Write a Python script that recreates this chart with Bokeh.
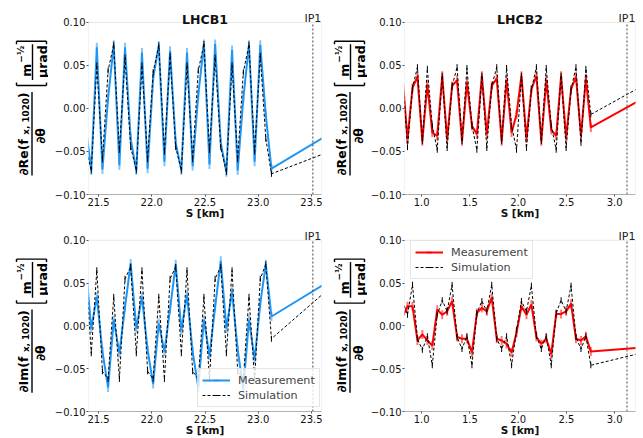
import numpy as np
from bokeh.plotting import figure
from bokeh.layouts import row, column
from bokeh.models import (Range1d, FixedTicker, CustomJSTickFormatter, BoxAnnotation,
                          Legend, LegendItem)
from bokeh.embed import file_html
from bokeh.resources import INLINE
from bokeh.core.properties import value

# ---------------- data ----------------
b1_s = [21.379, 21.432, 21.484, 21.537, 21.590, 21.643, 21.696, 21.749, 21.802, 21.855,
        21.908, 21.961, 22.013, 22.066, 22.119, 22.172, 22.225, 22.278, 22.331, 22.384,
        22.437, 22.490, 22.542, 22.595, 22.648, 22.701, 22.754, 22.807, 22.860, 22.913,
        22.966, 23.019, 23.071, 23.124, 23.650]
b1_re_meas = [-0.020, -0.072, 0.071, -0.071, 0.012, 0.074, -0.066, 0.071, -0.035, -0.072,
              0.065, -0.070, 0.035, 0.073, -0.062, 0.067, -0.040, -0.072, 0.065, -0.067,
              0.016, 0.075, -0.065, 0.075, -0.040, -0.074, 0.068, -0.072, 0.012, 0.074,
              -0.062, 0.074, -0.008, -0.070, -0.031]
b1_re_sim = [-0.045, -0.072, 0.050, -0.059, 0.044, 0.074, -0.048, 0.059, -0.045, -0.072,
             0.050, -0.059, 0.042, 0.073, -0.050, 0.061, -0.045, -0.072, 0.050, -0.059,
             0.044, 0.075, -0.048, 0.059, -0.045, -0.074, 0.050, -0.059, 0.042, 0.074,
             -0.050, 0.061, -0.035, -0.076, -0.051]
b1_im_meas = [0.072, -0.003, 0.034, -0.030, -0.072, 0.007, -0.032, 0.022, 0.073, -0.003,
              0.034, -0.028, -0.068, 0.003, -0.030, 0.020, 0.072, -0.005, 0.036, -0.030,
              -0.072, 0.007, -0.035, 0.022, 0.076, -0.003, 0.040, -0.028, -0.074, 0.007,
              -0.039, 0.026, 0.072, 0.011, 0.051]
b1_im_sim = [0.069, -0.032, 0.065, -0.053, -0.062, 0.034, -0.062, 0.055, 0.069, -0.032,
             0.065, -0.053, -0.062, 0.034, -0.062, 0.055, 0.069, -0.032, 0.065, -0.053,
             -0.062, 0.034, -0.062, 0.055, 0.069, -0.032, 0.065, -0.053, -0.062, 0.034,
             -0.062, 0.055, 0.072, -0.015, 0.042]

b2_s = [0.802, 0.853, 0.905, 0.956, 1.007, 1.059, 1.110, 1.161, 1.213, 1.264, 1.315,
        1.367, 1.418, 1.469, 1.521, 1.572, 1.624, 1.675, 1.726, 1.778, 1.829, 1.880,
        1.932, 1.983, 2.034, 2.086, 2.137, 2.189, 2.240, 2.291, 2.343, 2.394, 2.445,
        2.497, 2.548, 2.599, 2.651, 2.702, 2.753, 3.300]
b2_re_meas = [0.037, -0.036, 0.024, 0.037, -0.038, 0.028, -0.028, -0.032, 0.038, -0.036,
              0.026, 0.033, -0.038, 0.030, -0.020, -0.030, 0.038, -0.030, 0.026, 0.035,
              -0.038, 0.033, -0.028, -0.007, 0.038, -0.035, 0.022, 0.038, -0.038, 0.033,
              -0.025, -0.032, 0.038, -0.034, 0.022, 0.037, -0.032, 0.035, -0.022, 0.012]
b2_re_sim = [0.038, -0.045, 0.024, 0.048, -0.038, 0.046, -0.020, -0.048, 0.038, -0.046,
             0.026, 0.048, -0.038, 0.047, -0.020, -0.048, 0.038, -0.046, 0.026, 0.048,
             -0.038, 0.047, -0.020, -0.048, 0.038, -0.046, 0.022, 0.048, -0.038, 0.047,
             -0.020, -0.048, 0.038, -0.046, 0.022, 0.048, -0.040, 0.046, -0.007, 0.027]
b2_im_meas = [0.010, 0.023, 0.023, -0.017, -0.010, -0.017, -0.023, 0.019, 0.013, 0.017,
              0.029, -0.013, -0.015, -0.015, -0.031, 0.015, 0.021, 0.017, 0.033, -0.015,
              -0.017, -0.021, -0.031, -0.008, 0.023, 0.013, 0.025, -0.013, -0.021, -0.015,
              -0.033, 0.014, 0.014, 0.017, 0.026, -0.015, -0.017, -0.012, -0.030, -0.025]
b2_im_sim = [0.029, 0.013, 0.048, -0.015, -0.028, -0.012, -0.046, 0.013, 0.030, 0.017,
             0.048, -0.013, -0.027, -0.012, -0.046, 0.015, 0.029, 0.017, 0.048, -0.015,
             -0.027, -0.012, -0.046, -0.005, 0.029, 0.017, 0.047, -0.012, -0.027, -0.012,
             -0.046, 0.015, 0.030, 0.017, 0.047, -0.013, -0.027, -0.012, -0.046, -0.031]

ip1_b1 = 23.513
ip1_b2 = 3.128
b1_xrange = (21.406, 23.594)
b2_xrange = (0.822, 3.216)
b1_xticks = [21.5, 22.0, 22.5, 23.0, 23.5]
b2_xticks = [1.0, 1.5, 2.0, 2.5, 3.0]
y_ticks = [-0.10, -0.05, 0.0, 0.05, 0.10]
y_lim = (-0.10, 0.10)

BLUE = "#1e96f5"
RED = "#ff0000"
FONT = "DejaVu Sans"
F = 173  # data-box height (px)
DY = (y_lim[1] - y_lim[0]) / F  # data units per pixel


def main_panel(s, meas, sim, color, xr, xticks, ip1, title, head, bb, legend_loc,
               width, bl, br, base):
    h = head + F + bb
    p = figure(width=width, height=h, x_range=Range1d(*xr),
               y_range=Range1d(y_lim[0], y_lim[1] + head * DY),
               output_backend="svg", toolbar_location=None, title=None,
               min_border_left=bl, min_border_right=br, min_border_top=0,
               min_border_bottom=bb)
    p.xgrid.visible = False
    p.ygrid.visible = False
    p.outline_line_color = None
    for ax in (p.xaxis[0], p.yaxis[0]):
        ax.major_tick_line_color = "#555555"
        ax.major_tick_out = 2
        ax.major_tick_in = 0
        ax.minor_tick_line_color = None
        ax.major_label_text_font = FONT
        ax.major_label_text_font_size = "10px"
        ax.major_label_text_color = "#111111"
        ax.major_label_standoff = 1
    p.xaxis.axis_line_color = "#b0b0b0"
    p.yaxis.axis_line_color = None
    p.xaxis.ticker = FixedTicker(ticks=xticks)
    p.xaxis.formatter = CustomJSTickFormatter(code="return tick.toFixed(1);")
    p.xaxis.axis_label = "S [km]"
    p.xaxis.axis_label_text_font = FONT
    p.xaxis.axis_label_text_font_size = "10.5px"
    p.xaxis.axis_label_text_font_style = "bold"
    p.xaxis.axis_label_text_color = "#111111"
    p.xaxis.axis_label_standoff = -2
    p.yaxis.ticker = FixedTicker(ticks=y_ticks)
    p.yaxis.formatter = CustomJSTickFormatter(
        code="return (tick < -1e-9 ? '\u2212' : '') + Math.abs(tick).toFixed(2);")

    # axes box around the data area
    p.add_layout(BoxAnnotation(left=xr[0], right=xr[1], bottom=y_lim[0], top=y_lim[1],
                               fill_alpha=0, line_color="#b0b0b0", line_width=1,
                               level="underlay"))

    rm = p.line(s, meas, line_color=color, line_width=2)
    rme = p.scatter(s, meas, marker="dash", angle=np.pi / 2, size=9,
                    line_color=color, line_width=2, line_alpha=0.55)
    rs = p.line(s, sim, line_color="black", line_width=1, line_dash="3 2")
    rse = p.scatter(s, sim, marker="dash", angle=np.pi / 2, size=6,
                    line_color="black", line_width=1)

    # IP1 marker line and label
    p.segment(x0=[ip1], y0=[y_lim[0]], x1=[ip1], y1=[y_lim[1]], line_color="#444444",
              line_width=1, line_dash="2 2")
    p.text(x=[ip1], y=[y_lim[1] + (head - base) * DY], text=["IP1"],
           text_align="center", text_baseline="alphabetic", text_font=value(FONT),
           text_font_size="11px", text_color="#222222")
    if title:
        p.text(x=[(xr[0] + xr[1]) / 2], y=[y_lim[1] + (head - base - 0.8) * DY],
               text=[title], text_align="center", text_baseline="alphabetic",
               text_font=value(FONT), text_font_size="12.5px", text_font_style="bold",
               text_color="#111111")
    if legend_loc:
        leg = Legend(items=[LegendItem(label="Measurement", renderers=[rm, rme]),
                            LegendItem(label="Simulation", renderers=[rs, rse])],
                     location=legend_loc, label_text_font=FONT,
                     label_text_font_size="11.2px", glyph_width=28, glyph_height=14,
                     label_standoff=8, padding=4, spacing=1, margin=0,
                     border_line_color="#cccccc", background_fill_alpha=0.8)
        p.add_layout(leg)
    return p


def ylabel_fig(kind, width, head, bb, dx):
    h = head + F + bb
    f = figure(width=width, height=h, x_range=Range1d(0, width),
               y_range=Range1d(F, -head), output_backend="svg", toolbar_location=None,
               x_axis_type=None, y_axis_type=None, min_border_left=0,
               min_border_right=0, title=None, min_border_top=0, min_border_bottom=bb)
    f.xgrid.visible = False
    f.ygrid.visible = False
    f.outline_line_color = None
    big = dict(angle=np.pi / 2, text_font=value(FONT), text_font_style="bold",
               text_align="center", text_baseline="middle", text_color="black")
    f.text(x=[23 + dx], y=[135.5], text=["\u2202" + kind + "(f"], text_font_size="12.5px", **big)
    f.text(x=[25.5 + dx], y=[94.5], text=["x, 1020"], text_font_size="8.8px", **big)
    f.text(x=[23 + dx], y=[73.5], text=[")"], text_font_size="12.5px", **big)
    f.text(x=[40 + dx], y=[114], text=["\u2202\u03b8"], text_font_size="12.5px", **big)
    f.text(x=[26 + dx], y=[48], text=["m"], text_font_size="12.5px", **big)
    f.text(x=[20 + dx], y=[32], text=["\u2212\u00bd"], text_font_size="9px", **big)
    f.text(x=[41.5 + dx], y=[39.5], text=["\u00b5rad"], text_font_size="12.5px", **big)
    # fraction bars and brackets
    x0s = [31.5 + dx, 32 + dx, 16 + dx, 16 + dx, 46 + dx, 16 + dx, 16 + dx, 46 + dx]
    x1s = [31.5 + dx, 32 + dx, 46 + dx, 16 + dx, 46 + dx, 46 + dx, 16 + dx, 46 + dx]
    y0s = [70, 22, 63.5, 63.5, 63.5, 19, 19, 19]
    y1s = [154, 58, 63.5, 60.5, 60.5, 19, 22, 22]
    f.segment(x0=x0s, y0=y0s, x1=x1s, y1=y1s, line_color="black", line_width=1.4)
    return f


LW, MW_L, LW_R, MW_R = 48, 277, 42, 276
BB_TOP, BB_BOT = 26, 25
H1, H2 = 22, 19

p_tl = main_panel(b1_s, b1_re_meas, b1_re_sim, BLUE, b1_xrange, b1_xticks, ip1_b1,
                  "LHCB1", H1, BB_TOP, None, MW_L, 40, 4, 18.5)
p_tr = main_panel(b2_s, b2_re_meas, b2_re_sim, RED, b2_xrange, b2_xticks, ip1_b2,
                  "LHCB2", H1, BB_TOP, None, MW_R, 35, 8, 18.5)
p_bl = main_panel(b1_s, b1_im_meas, b1_im_sim, BLUE, b1_xrange, b1_xticks, ip1_b1,
                  None, H2, BB_BOT, (109, 4), MW_L, 40, 4, 15.5)
p_br = main_panel(b2_s, b2_im_meas, b2_im_sim, RED, b2_xrange, b2_xticks, ip1_b2,
                  None, H2, BB_BOT, (6, F - 41), MW_R, 35, 8, 15.5)

l_tl = ylabel_fig("Re", LW, H1, BB_TOP, 0)
l_tr = ylabel_fig("Re", LW_R, H1, BB_TOP, -7)
l_bl = ylabel_fig("Im", LW, H2, BB_BOT, 0)
l_br = ylabel_fig("Im", LW_R, H2, BB_BOT, -7)

layout = column(row(l_tl, p_tl, l_tr, p_tr), row(l_bl, p_bl, l_br, p_br))
open("out.html", "w").write(file_html(layout, INLINE))
